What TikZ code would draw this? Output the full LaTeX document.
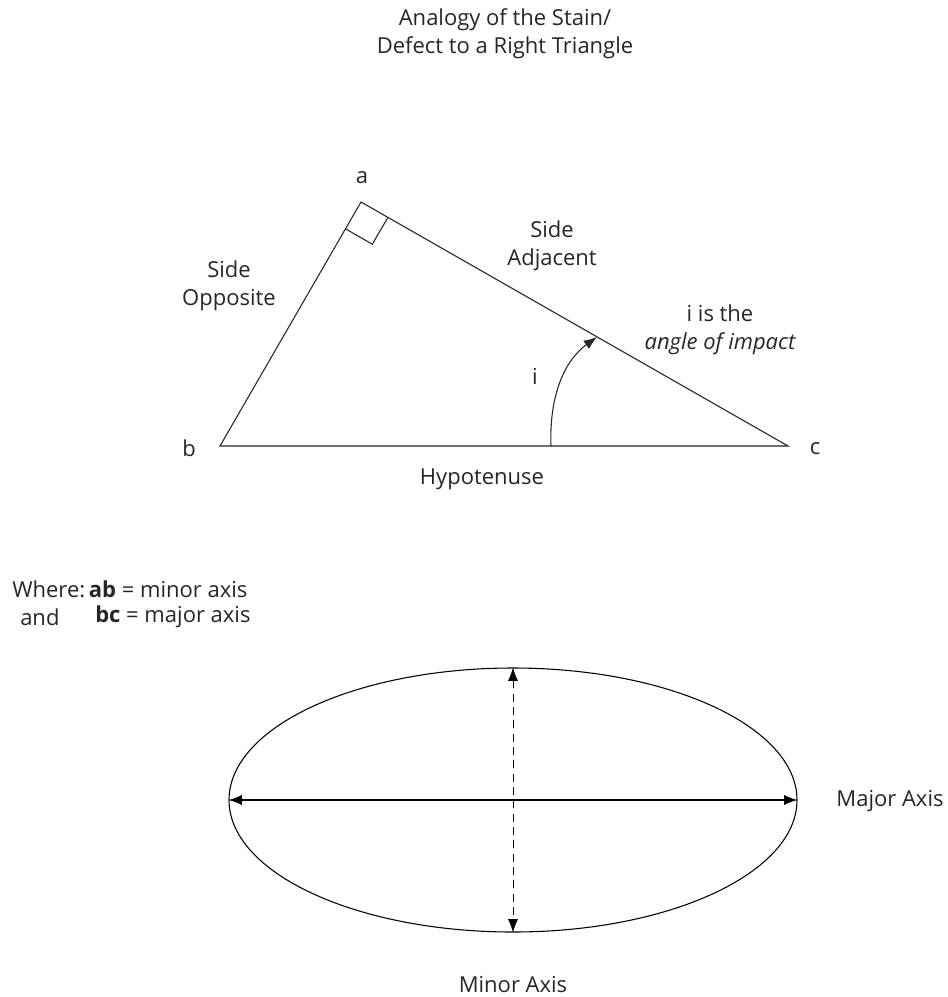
\documentclass[tikz,border=0pt]{standalone}
\usepackage{fontspec}
\setmainfont{Open Sans}
\usetikzlibrary{arrows.meta,shapes.geometric}
\begin{document}
\begin{tikzpicture}[x=0.75pt,y=-0.75pt,
  lbl/.style={font=\fontsize{16.5}{21}\selectfont, inner sep=0pt, align=center, text=black!85},
  edge/.style={draw=black!85, line width=0.8pt},
  axis/.style={draw=black, line width=0.9pt, {Latex[length=10pt,width=7.5pt]}-{Latex[length=10pt,width=7.5pt]}}]
\useasboundingbox (0,0) rectangle (948,997);
% title
\node[lbl] (title) at (505,34) {Analogy of the Stain/\\Defect to a Right Triangle};
% triangle
\coordinate (a) at (361,202);
\coordinate (b) at (220,446);
\coordinate (c) at (788,446);
\draw[edge] (a) -- (b) -- (c) -- cycle;
% right angle mark
\draw[edge] (a) ++(-0.503*31,0.864*31) coordinate (r1) -- ++(0.868*31,0.497*31) coordinate (r2) -- ++(0.503*31,-0.864*31) coordinate (r3);
% angle arc
\coordinate (arcS) at (551,446);
\coordinate (arcE) at (597,337);
\draw[edge,-{Latex[length=10pt,width=7.5pt]}] (arcS) .. controls (549,395) and (565,360) .. (arcE);
% labels
\node[lbl] (la) at (362,178) {a};
\node[lbl] (lb) at (189,448) {b};
\node[lbl] (lc) at (815,449) {c};
\node[lbl] (opp) at (229,286) {Side\\Opposite};
\node[lbl] (adj) at (552,246) {Side\\Adjacent};
\node[lbl] (imp) at (720,330) {i is the\\\itshape angle of impact};
\node[lbl] (li) at (535,376) {i};
\node[lbl] (hyp) at (482,479) {Hypotenuse};
\node[lbl,anchor=west] (w1) at (12,589) {Where:\,\textbf{ab} = minor axis};
\node[lbl,anchor=west] (w2a) at (20,617) {and};
\node[lbl,anchor=west] (w2b) at (95,617) {\textbf{bc} = major axis};
% ellipse
\node[draw=black, line width=0.8pt, ellipse, minimum width=568*0.75pt, minimum height=264*0.75pt, inner sep=0pt] (ell) at (513,800) {};
\draw[axis] (ell.west) -- (ell.east);
\draw[axis,dash pattern=on 6pt off 4pt, line width=0.7pt] (ell.north) -- (ell.south);
\node[lbl] (maj) at (890,801) {Major Axis};
\node[lbl] (min) at (513,985) {Minor Axis};
\end{tikzpicture}
\end{document}
